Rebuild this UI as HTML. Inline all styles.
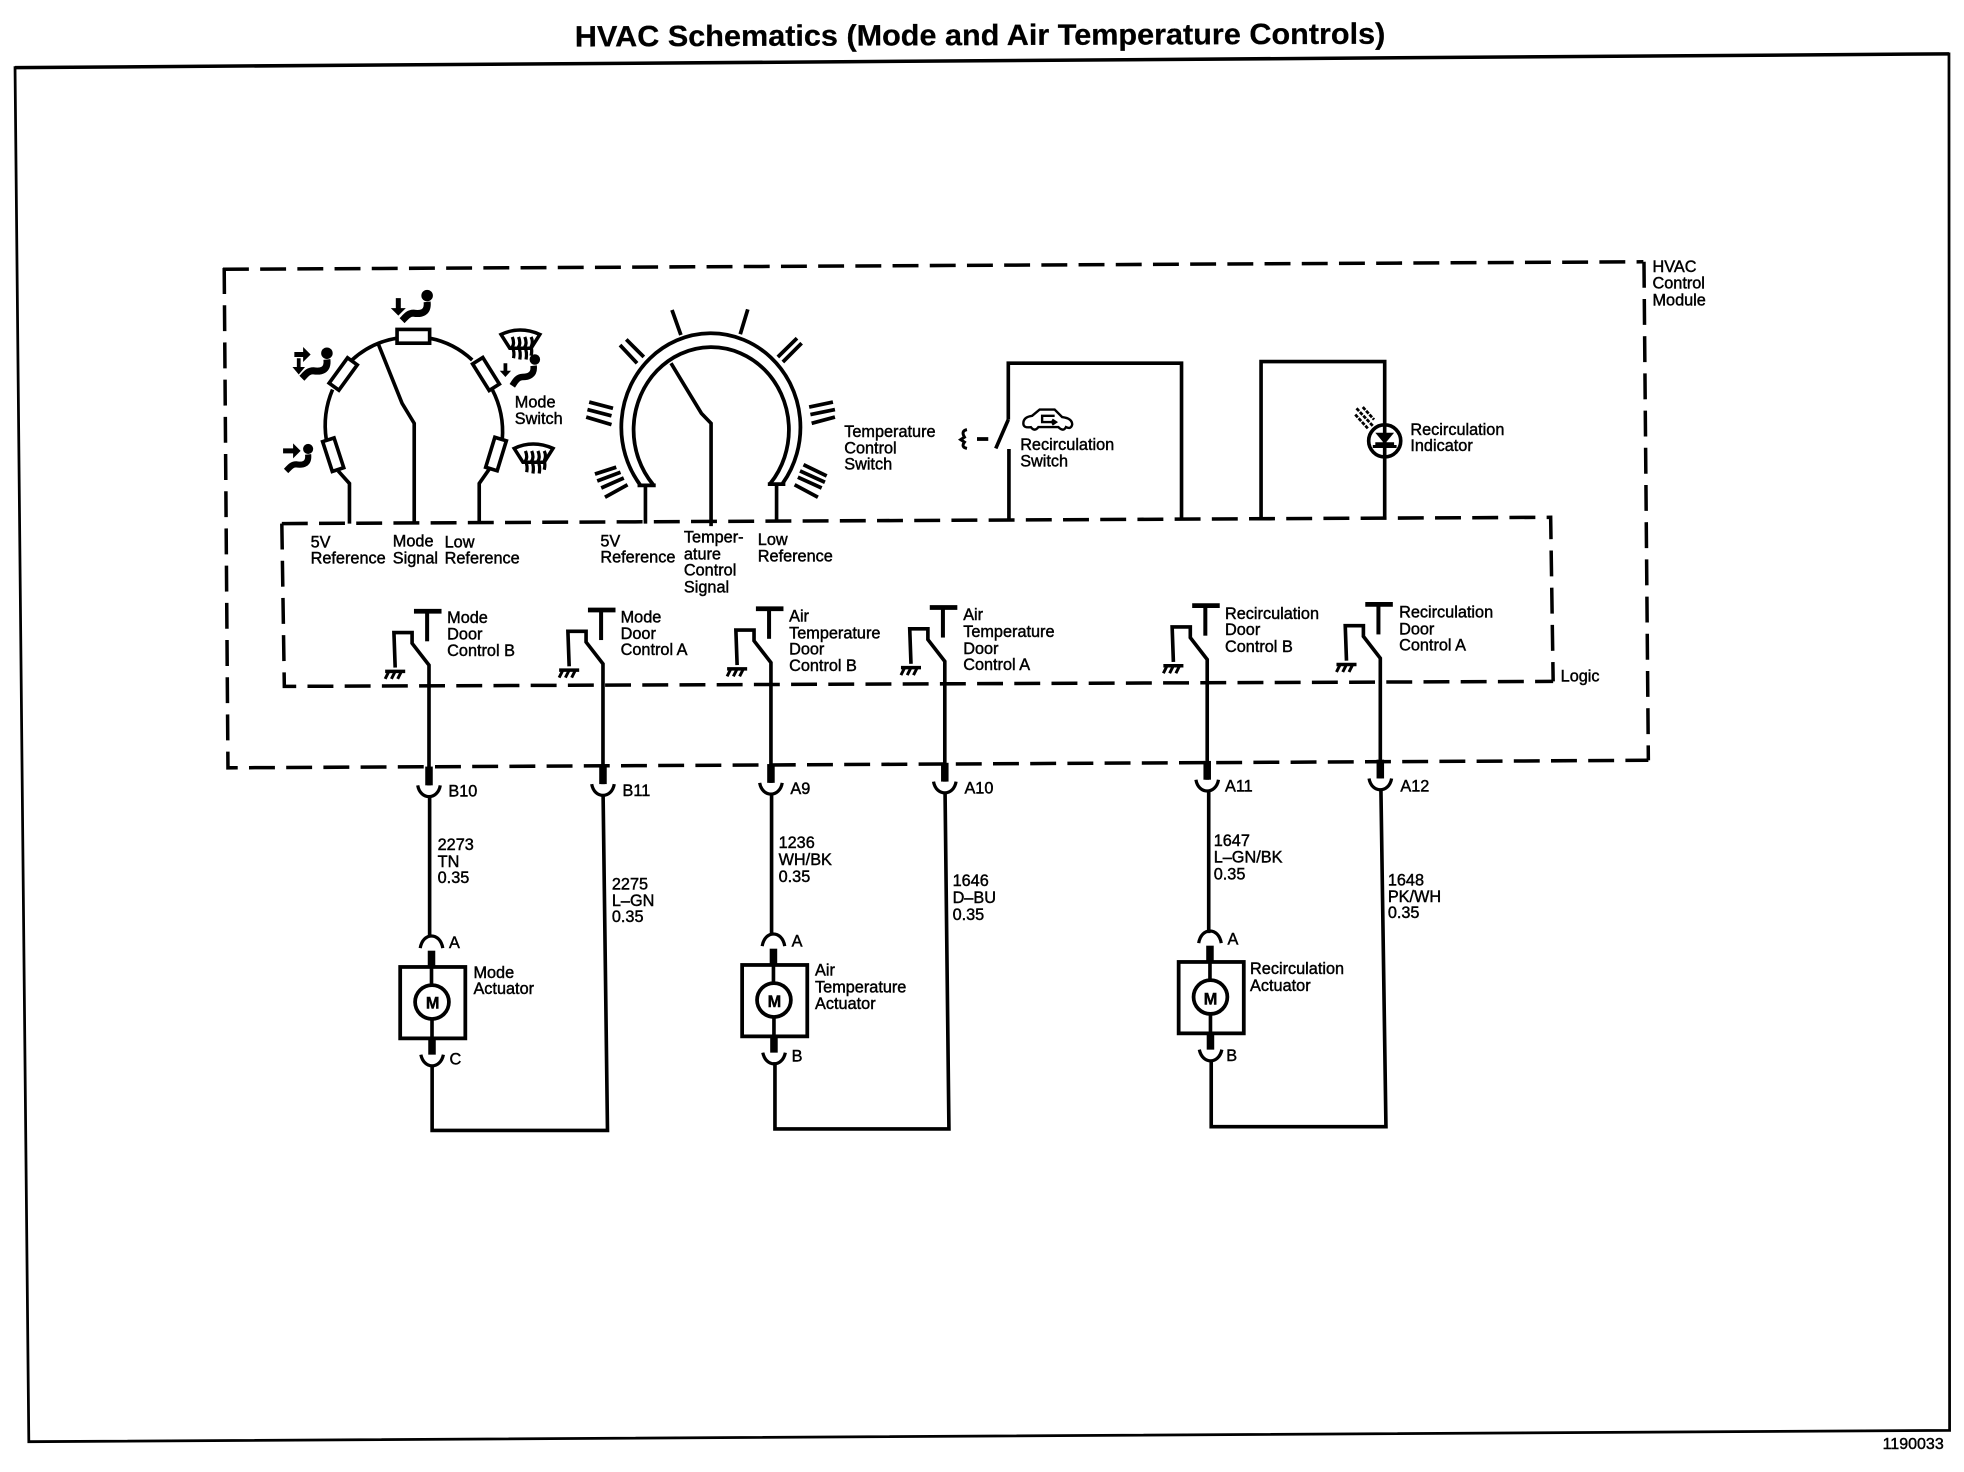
<!DOCTYPE html>
<html><head><meta charset="utf-8"><title>HVAC Schematics</title>
<style>
html,body{margin:0;padding:0;background:#fff;width:1964px;height:1472px;overflow:hidden}
svg{display:block}
text{font-family:"Liberation Sans",sans-serif;font-size:13px;fill:#000;stroke:#000;stroke-width:.35}
.d{fill:none;stroke:#000;stroke-width:2.8;stroke-dasharray:20.7 9}
</style></head><body>
<svg width="1964" height="1472" viewBox="0 0 1568 1175.2" xmlns="http://www.w3.org/2000/svg">
<defs>
<g id="sw" fill="none" stroke="#000" stroke-width="2.9">
<path d="M-12,0H10" stroke-width="3.8"/>
<path d="M-1.5,0V24" stroke-width="3.2"/>
<path d="M0,139V43L-13.5,25.6V17H-28L-27,45"/>
<path d="M0,124V139" stroke-width="6"/>
<path d="M-9,139C-7,151 7,151 9,139" stroke-width="2.6"/>
<path d="M-35,48H-19" stroke-width="2.8"/>
<path d="M-32,48L-35,54M-27,48L-30,54M-22,48L-25,54" stroke-width="2.4"/>
</g>
<g id="act" fill="none" stroke="#000" stroke-width="2.9">
<path d="M-9,-15C-7,-28 7,-28 9,-15" stroke-width="2.6"/>
<path d="M0,-13V0" stroke-width="6"/>
<rect x="-25" y="0" width="52" height="57" stroke-width="3"/>
<circle cx="0.4" cy="28" r="13.5" stroke-width="3"/>
<path d="M0,0V14.5M0.4,41.5V57"/>
<path d="M0.4,57V70" stroke-width="6"/>
<path d="M-8.5,70C-6,82 7,82 9.500,70" stroke-width="2.6"/>
</g>
<g id="person">
<circle cx="25" cy="5" r="4.6"/>
<path d="M25,10C26,19 20,20 14,19C10,19 8,22 5,25" fill="none" stroke="#000" stroke-width="5.6"/>
</g>
<g id="shield" fill="none" stroke="#000">
<path d="M0,3Q15,-4 31,3L24,14H7Z" stroke-width="2.8"/>
<path d="M9,5Q11,10 9,13Q11,17 10,22M14,5Q16,10 14,13Q16,17 15,23M19,5Q21,10 19,13Q21,17 20,23M24,5Q26,9 24,13Q25,16 24,20" stroke-width="2.6"/>
</g>
</defs>

<!-- title -->
<text x="459" y="36" textLength="647" lengthAdjust="spacingAndGlyphs" transform="rotate(-0.2 780 30)" style="font-size:23.5px;font-weight:bold;stroke-width:.2">HVAC Schematics (Mode and Air Temperature Controls)</text>

<!-- frame -->
<path d="M12,54L1556,43L1556.5,1142L23,1151L12,54Z" fill="none" stroke="#000" stroke-width="2.2"/>
<path d="M12,54L1556,43" fill="none" stroke="#000" stroke-width="2.8"/>
<text x="1503" y="1157" style="font-size:12.8px">1190033</text>

<!-- dashed boundaries -->
<path class="d" d="M178,215L1312,209"/>
<path class="d" d="M1312.5,209L1316,607"/>
<path class="d" d="M179,214L182,613L1316,607"/>
<path class="d" d="M225,418L1238,413L1240,544"/>
<path class="d" d="M225,418L227,548L1240,544"/>

<!-- mode switch -->
<g fill="none" stroke="#000" stroke-width="2.9">
<path d="M260.5,351A70,72 0 0 1 265.5,311"/>
<path d="M281,287.4A70,72 0 0 1 317,270"/>
<path d="M343,270A70,72 0 0 1 377,287.4"/>
<path d="M393,311A70,72 0 0 1 401,351"/>
<path d="M270,376L279,386V418"/>
<path d="M391,374L382.6,386V418"/>
<path d="M302,274.6L321,322L330.7,338V418"/>
<path d="M515.3,387V418M620,386V417M535.7,290L560,330L567.7,338V420"/>
<rect x="317" y="263" width="26" height="11"/>
<rect x="-4.8" y="-12.5" width="9.6" height="25" transform="translate(274,298.6) rotate(36)"/>
<rect x="-4.8" y="-12.5" width="9.6" height="25" transform="translate(388,298.6) rotate(-32)"/>
<rect x="-4.8" y="-12.5" width="9.6" height="25" transform="translate(266,363) rotate(-18)"/>
<rect x="-4.8" y="-12.5" width="9.6" height="25" transform="translate(396,362.5) rotate(17)"/>
</g>

<!-- icons -->
<use href="#person" x="316" y="231"/>
<use href="#person" x="236" y="277"/>
<use href="#person" transform="translate(224,354) scale(.88)"/>
<path d="M235,281h7v-4l6,6l-6,6v-4h-7z M316,238v8h-4l6,6l6,-6h-4v-8z" fill="#000"/>
<path d="M226,358h8v-4l6,6l-6,6v-4h-8z" fill="#000"/>
<path d="M237,286v7h-3.500l5,6l5,-6h-3.500v-7z" fill="#000"/>
<use href="#shield" x="400" y="264"/>
<g transform="translate(402,290)" fill="#000">
<circle cx="25" cy="-3" r="4.2"/>
<path d="M24,2C25,10 19,11 15,11C11,11 9,15 7,18" fill="none" stroke="#000" stroke-width="5.2"/>
<path d="M0,0v6h-3l4.500,5l4.500,-5h-3v-6z"/>
</g>
<use href="#shield" x="410.5" y="355"/>

<!-- temperature switch -->
<g fill="none" stroke="#000" stroke-width="3">
<path d="M511,387A71.5,75 0 1 1 624.800,386"/>
<path d="M521.5,387A62,66 0 1 1 615,386"/>
<path d="M509,387.5H523.500M613,386.500H627"/>
<path d="M536.5,247.5L543.600,267.500M597,247L591,266.800"/>
<path d="M500,271L514,285M495,275.500L508.600,290M636.300,270L621,285M640,274L625,289"/>
<path d="M470.4,321L489.400,326M469,327L488.200,332M468,333L488.200,339"/>
<path d="M665,321L646,325M666.600,327L647,331M666.600,333L648,338"/>
<path d="M492,373L475,378.500M495.400,377L476.800,384M498,381.600L480,389.600M501,387L483,397"/>
<path d="M641.5,371L660,380M638.700,376L658.600,385M637,381L656,389.600M634.400,387L653,397"/>
</g>

<!-- recirculation switch -->
<g fill="none" stroke="#000" stroke-width="2.9">
<path d="M805,335V290H943.300V413.500"/>
<path d="M805,335L795,358M805.500,358.500V415"/>
<path d="M780,350.500H789" stroke-width="3"/>
<path d="M772,343Q767,344 770,349L767,351L770,353Q767,357 772,358" stroke-width="2.400"/>
<path d="M817,338Q817,333 824,332L830,327H842L848,333Q856,334 856,339Q855,343 851,341Q849,345 845,341H829Q826,345 823,341Q817,342 817,338Z" stroke-width="1.900"/>
<path d="M842,332H832V337H843M840,335L843,337L840,339" stroke-width="1.900"/>
</g>

<!-- indicator -->
<g fill="none" stroke="#000" stroke-width="2.9">
<path d="M1006.800,413V288.700H1105.500V339M1105.500,365V412.500"/>
<circle cx="1105.500" cy="352" r="12.800"/>
<path d="M1105.500,339V365"/>
<path d="M1098,354.500H1113"/>
<path d="M1098,345.500H1113L1105.500,354.500Z" fill="#000" stroke="none"/>
<path d="M1096,356.500H1115" stroke-width="2.400"/>
<path d="M1083,326L1096,340M1088,325L1097,335M1082,331L1092,342" stroke-width="2.200" stroke-dasharray="3 1"/>
</g>

<!-- logic switches -->
<use href="#sw" x="342.5" y="488"/>
<use href="#sw" x="481.4" y="487"/>
<use href="#sw" x="615.5" y="486"/>
<use href="#sw" x="754.3" y="485"/>
<use href="#sw" x="963.8" y="483.5"/>
<use href="#sw" x="1102" y="482.5"/>

<!-- wires below -->
<g fill="none" stroke="#000" stroke-width="2.9">
<path d="M343,636V748"/>
<path d="M345,850V902.500H485L481.500,635"/>
<path d="M616,634V746.500"/>
<path d="M618.700,848V901.300H757.600L754.500,632"/>
<path d="M965,632V745"/>
<path d="M967,847V899.500H1106.500L1102.500,631"/>
</g>

<use href="#act" x="344.5" y="772"/>
<use href="#act" x="617.5" y="770.4"/>
<use href="#act" x="966" y="768"/>
<text x="340" y="805" style="font-weight:bold;font-size:13px">M</text>
<text x="612.8" y="804" style="font-weight:bold;font-size:13px">M</text>
<text x="961" y="802" style="font-weight:bold;font-size:13px">M</text>

<!-- labels -->
<text x="411" y="325.5">Mode</text><text x="411" y="338.5">Switch</text>
<text x="674" y="349">Temperature</text><text x="674" y="362">Control</text><text x="674" y="375">Switch</text>
<text x="248" y="437">5V</text><text x="248" y="450">Reference</text>
<text x="313.6" y="436.5">Mode</text><text x="313.6" y="450">Signal</text>
<text x="355" y="437">Low</text><text x="355" y="450">Reference</text>
<text x="479.3" y="436.4">5V</text><text x="479.3" y="449">Reference</text>
<text x="546" y="433">Temper-</text><text x="546" y="446.5">ature</text><text x="546" y="459.6">Control</text><text x="546" y="473">Signal</text>
<text x="605" y="435">Low</text><text x="605" y="448.4">Reference</text>
<text x="1319.3" y="217">HVAC</text><text x="1319.3" y="230.5">Control</text><text x="1319.3" y="244">Module</text>
<text x="814.5" y="359.3">Recirculation</text><text x="814.5" y="372.6">Switch</text>
<text x="1126" y="347.3">Recirculation</text><text x="1126" y="360">Indicator</text>
<text x="1246" y="544">Logic</text>

<text x="357" y="497.5">Mode</text><text x="357" y="510.6">Door</text><text x="357" y="523.7">Control B</text>
<text x="495.5" y="497">Mode</text><text x="495.5" y="510">Door</text><text x="495.5" y="523">Control A</text>
<text x="630" y="496">Air</text><text x="630" y="509.6">Temperature</text><text x="630" y="522.5">Door</text><text x="630" y="535.7">Control B</text>
<text x="769" y="495">Air</text><text x="769" y="508.5">Temperature</text><text x="769" y="522">Door</text><text x="769" y="535">Control A</text>
<text x="978" y="494">Recirculation</text><text x="978" y="507">Door</text><text x="978" y="520.5">Control B</text>
<text x="1117" y="493">Recirculation</text><text x="1117" y="506.5">Door</text><text x="1117" y="519.5">Control A</text>

<text x="358" y="636">B10</text>
<text x="497" y="635.5">B11</text>
<text x="631" y="634">A9</text>
<text x="770" y="633.5">A10</text>
<text x="978" y="632">A11</text>
<text x="1118" y="632">A12</text>

<text x="349.4" y="678.6">2273</text><text x="349.4" y="692">TN</text><text x="349.4" y="705">0.35</text>
<text x="488.5" y="710">2275</text><text x="488.5" y="723.4">L–GN</text><text x="488.5" y="736">0.35</text>
<text x="621.6" y="677">1236</text><text x="621.6" y="690.6">WH/BK</text><text x="621.6" y="704">0.35</text>
<text x="760.5" y="707.5">1646</text><text x="760.5" y="721">D–BU</text><text x="760.5" y="734.5">0.35</text>
<text x="969" y="675.5">1647</text><text x="969" y="688.5">L–GN/BK</text><text x="969" y="702">0.35</text>
<text x="1108" y="707">1648</text><text x="1108" y="720">PK/WH</text><text x="1108" y="733">0.35</text>

<text x="358.5" y="757">A</text>
<text x="358.9" y="849.7">C</text>
<text x="378" y="781">Mode</text><text x="378" y="793.7">Actuator</text>
<text x="632" y="755.7">A</text>
<text x="632" y="847.6">B</text>
<text x="650.7" y="779">Air</text><text x="650.7" y="792.5">Temperature</text><text x="650.7" y="805.7">Actuator</text>
<text x="980" y="754">A</text>
<text x="979" y="847">B</text>
<text x="998" y="777.5">Recirculation</text><text x="998" y="791">Actuator</text>
</svg>
</body></html>
